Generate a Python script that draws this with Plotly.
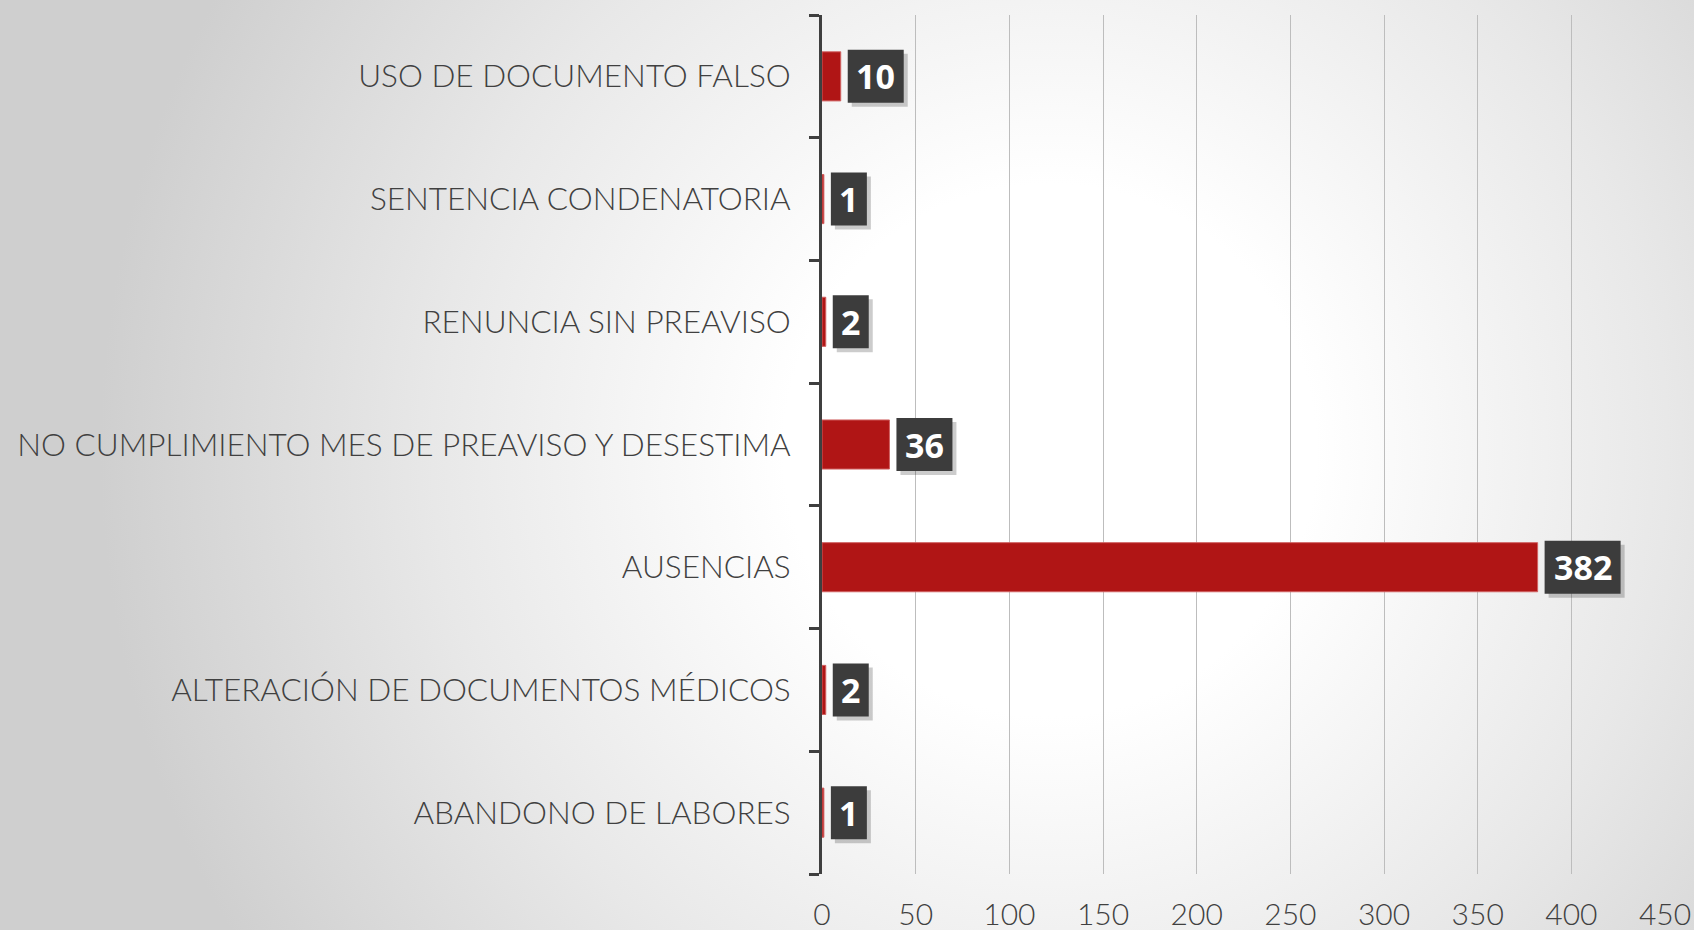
import base64
import plotly.graph_objects as go

categories = [
    "ABANDONO DE LABORES",
    "ALTERACIÓN DE DOCUMENTOS MÉDICOS",
    "AUSENCIAS",
    "NO CUMPLIMIENTO MES DE PREAVISO Y DESESTIMA",
    "RENUNCIA SIN PREAVISO",
    "SENTENCIA CONDENATORIA",
    "USO DE DOCUMENTO FALSO",
]
values = [1, 2, 382, 36, 2, 1, 10]
x_ticks = [0, 50, 100, 150, 200, 250, 300, 350, 400, 450]

W, H = 1694, 930
ML, MR, MT, MB = 822, 29, 15, 56
PW, PH = W - ML - MR, H - MT - MB

svg = f"""<svg xmlns='http://www.w3.org/2000/svg' width='{W}' height='{H}' viewBox='0 0 {W} {H}' preserveAspectRatio='none'>
<defs><radialGradient id='g' gradientUnits='userSpaceOnUse' cx='1050' cy='450' r='950'>
<stop offset='0' stop-color='#ffffff'/><stop offset='0.28' stop-color='#ffffff'/>
<stop offset='0.65' stop-color='#e8e8e8'/><stop offset='1' stop-color='#cfcfcf'/></radialGradient></defs>
<rect width='{W}' height='{H}' fill='url(#g)'/></svg>"""
bg_uri = "data:image/svg+xml;base64," + base64.b64encode(svg.encode()).decode()

fig = go.Figure()
fig.add_trace(go.Bar(
    y=categories, x=values, orientation="h",
    marker=dict(color="#b01515", line=dict(color="#d06060", width=1)),
    width=0.4, hoverinfo="x+y",
))

GAP, PAD, DIGIT, BOXH, SH = 7, 8, 20, 53, 4
shapes, annotations = [], []
for i, (c, v) in enumerate(zip(categories, values)):
    bw = 2 * PAD + DIGIT * len(str(v))
    common = dict(type="rect", xref="x", yref="y", xsizemode="pixel", ysizemode="pixel",
                  xanchor=v, yanchor=i, layer="above", line=dict(width=0))
    shapes.append(dict(common, x0=GAP + SH, x1=GAP + SH + bw,
                       y0=-BOXH / 2 - SH, y1=BOXH / 2 - SH, fillcolor="rgba(0,0,0,0.2)"))
    shapes.append(dict(common, x0=GAP, x1=GAP + bw,
                       y0=-BOXH / 2, y1=BOXH / 2, fillcolor="#3c3c3c"))
    annotations.append(dict(
        x=v, y=c, xref="x", yref="y", text=str(v), showarrow=False,
        xanchor="center", yanchor="middle", xshift=GAP + bw / 2,
        font=dict(family="Open Sans", size=34, color="white", weight="bold"),
    ))

fig.update_layout(
    width=W, height=H, autosize=False,
    margin=dict(l=ML, r=MR, t=MT, b=MB, pad=0, autoexpand=False),
    paper_bgcolor="#ffffff", plot_bgcolor="rgba(0,0,0,0)",
    showlegend=False, bargap=0.6,
    shapes=shapes, annotations=annotations,
    images=[dict(
        source=bg_uri, xref="paper", yref="paper",
        x=-ML / PW, y=1 + MT / PH, sizex=W / PW, sizey=H / PH,
        xanchor="left", yanchor="top", sizing="stretch", layer="below",
    )],
    xaxis=dict(
        range=[0, 450], tickvals=x_ticks, ticktext=[str(t) for t in x_ticks],
        showgrid=True, gridcolor="#bdbdbd", gridwidth=1,
        zeroline=False, showline=False, ticks="", automargin=False,
        tickfont=dict(family="Lato", size=30, color="#404040", weight=300),
        ticklabelstandoff=20, fixedrange=True,
    ),
    yaxis=dict(
        categoryorder="array", categoryarray=categories, automargin=False,
        showline=True, linecolor="#3f3f3f", linewidth=3,
        ticks="outside", tickson="boundaries", ticklen=10, tickwidth=3, tickcolor="#3f3f3f",
        tickfont=dict(family="Lato", size=31.5, color="#404040", weight=300),
        ticklabelstandoff=22, showgrid=False, fixedrange=True,
    ),
)

fig.write_html(
    "out.html",
    config={"responsive": False, "displayModeBar": False},
    post_script="document.body.style.margin='0';document.documentElement.style.overflow='hidden';document.body.style.overflow='hidden';",
)
